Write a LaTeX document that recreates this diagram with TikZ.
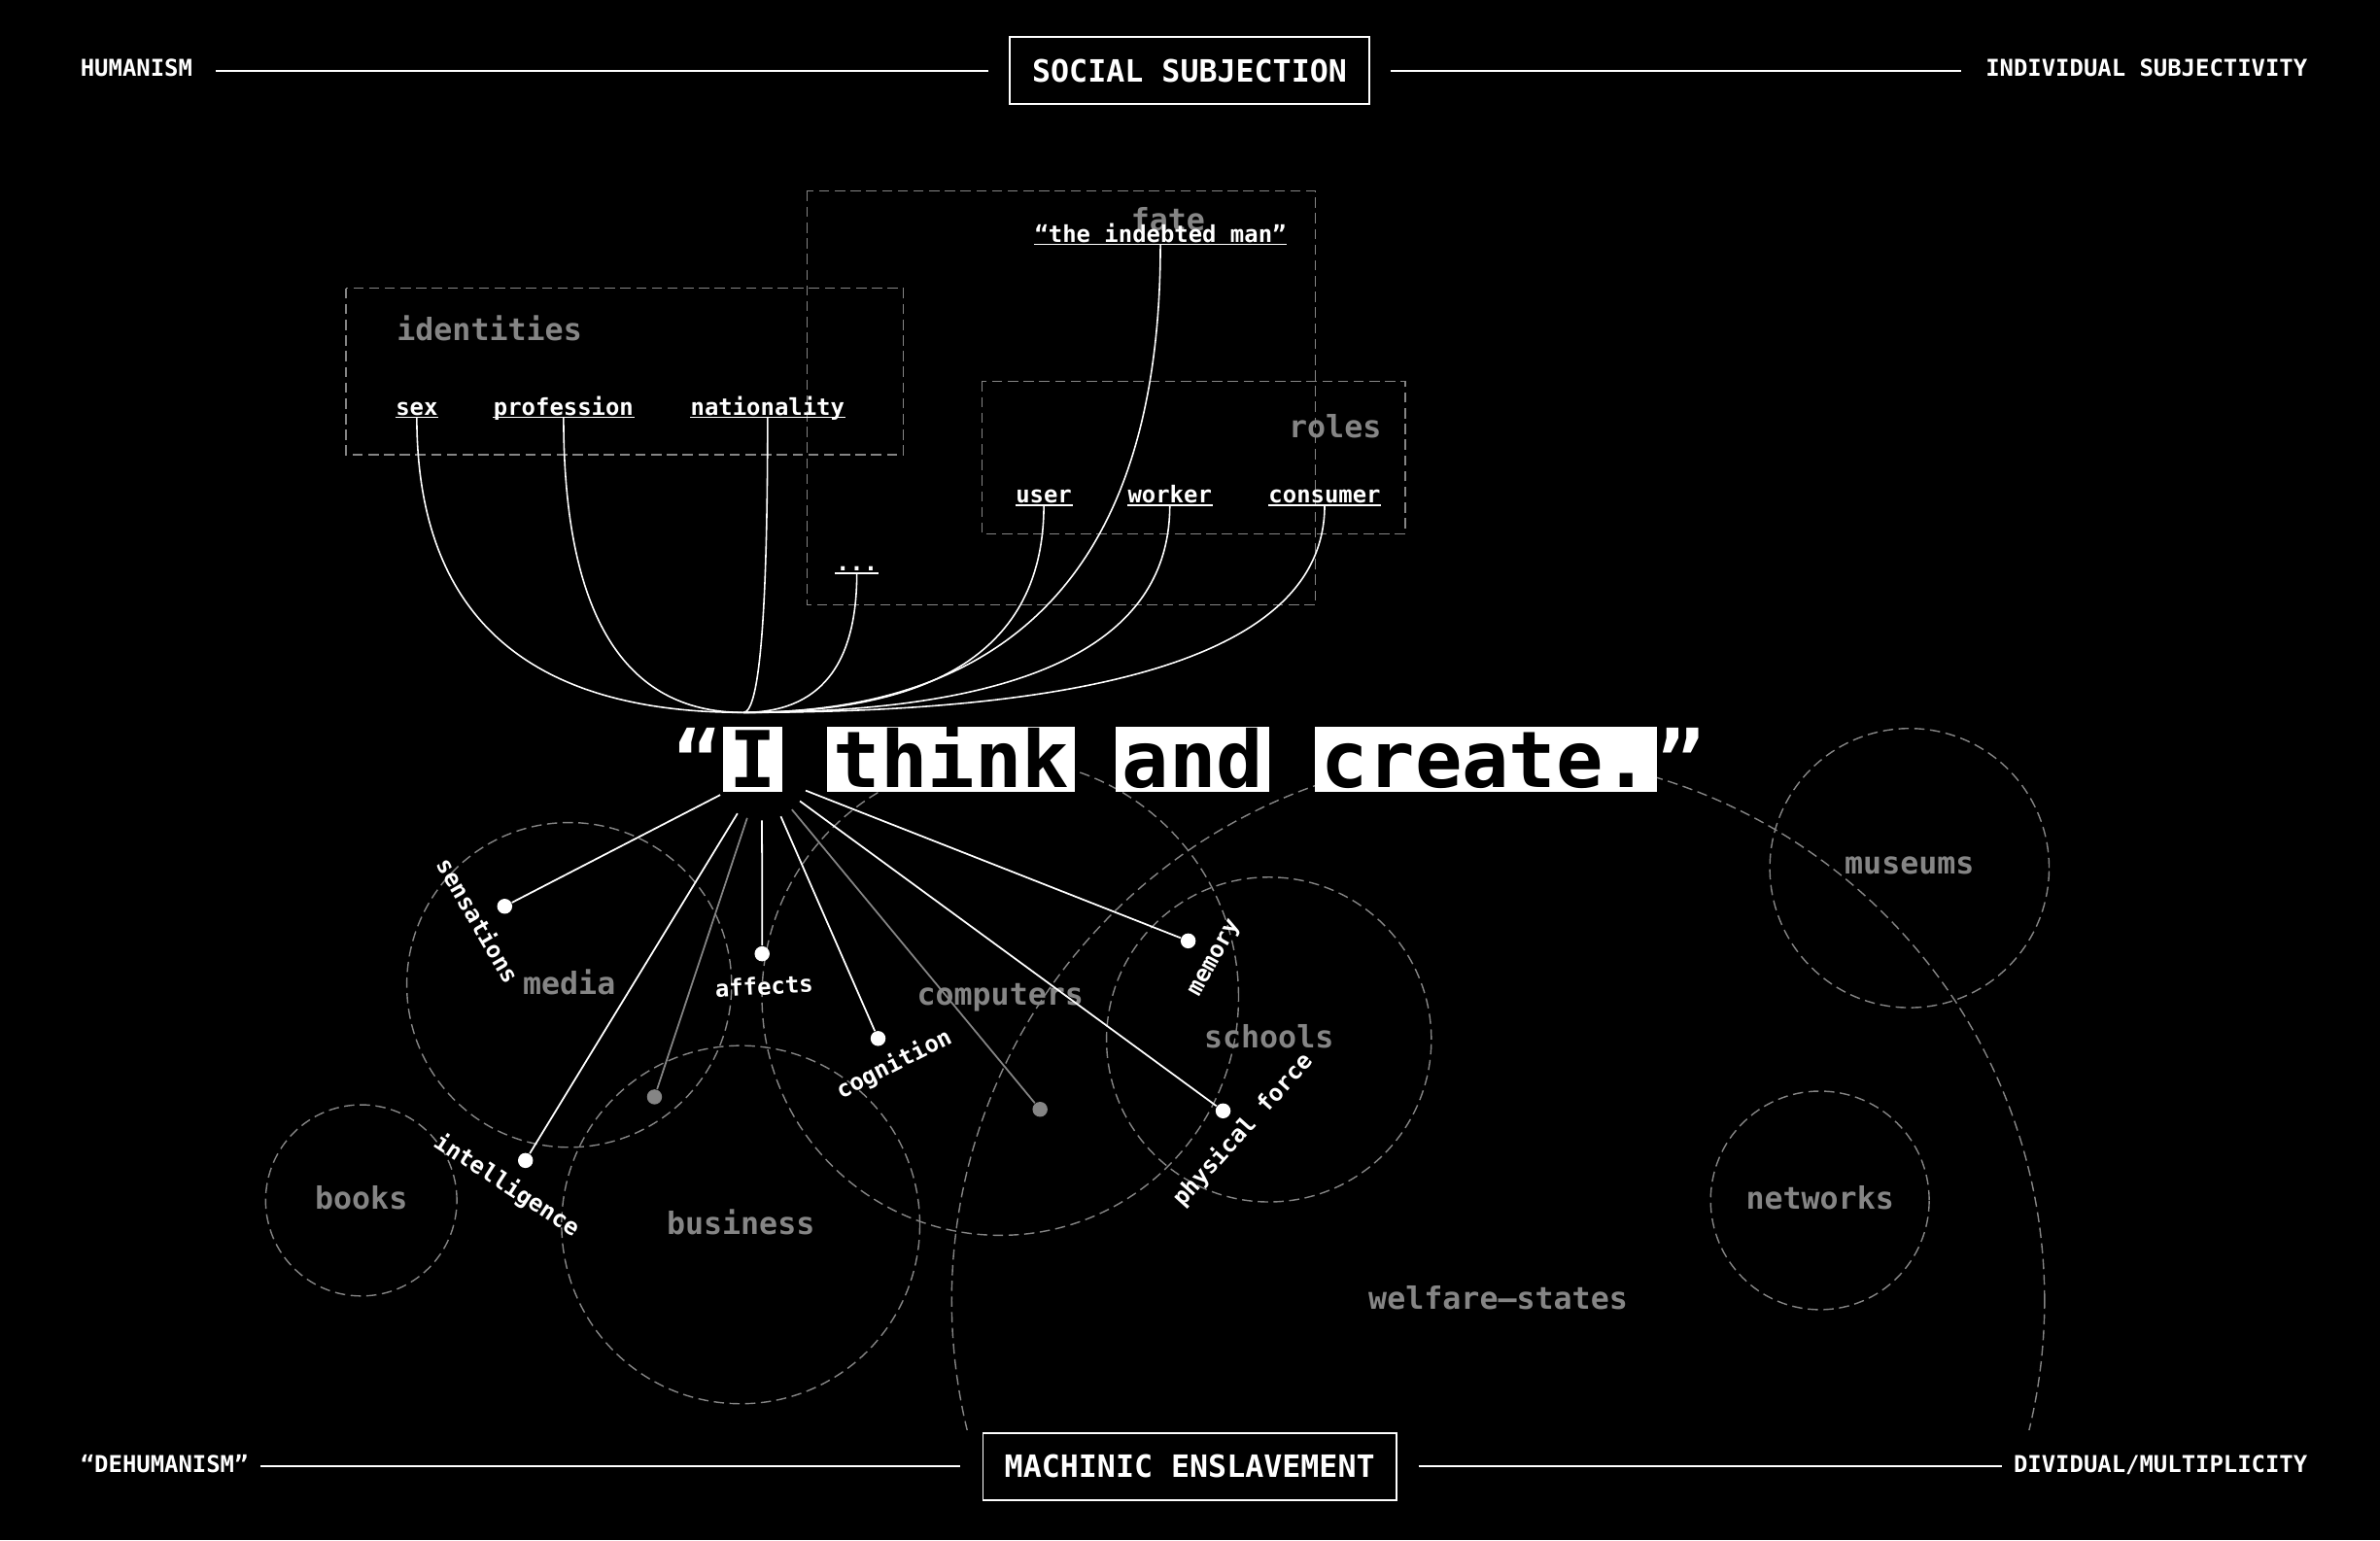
\documentclass[tikz,border=0pt]{standalone}
\usepackage{fontspec}
\setmainfont{DejaVu Sans Mono}
\usetikzlibrary{calc}
\definecolor{dimgrey}{HTML}{858585}

\begin{document}
\begin{tikzpicture}[x=0.44434pt,y=-0.44434pt,
  boxFrame/.style={draw=dimgrey,line width=0.4pt,dash pattern=on 3pt off 1.6pt},
  zone/.style={boxFrame,circle,inner sep=0pt,text=dimgrey,text depth=1.8pt,
    font=\bfseries\fontsize{9pt}{9pt}\selectfont},
  heading/.style={text=dimgrey,inner sep=0pt,font=\bfseries\fontsize{9pt}{9pt}\selectfont},
  tag/.style={text=white,inner sep=0pt,text depth=0.5pt,anchor=south,
    font=\bfseries\fontsize{6.8pt}{6.8pt}\selectfont,
    append after command={(\tikzlastnode.south west) edge[draw=white,line width=0.4pt] (\tikzlastnode.south east)}},
  pole/.style={text=white,inner sep=0pt,font=\bfseries\fontsize{6.8pt}{6.8pt}\selectfont},
  poleBox/.style={draw=white,line width=0.5pt,fill=black,text=white,inner sep=0pt,outer sep=0pt,
    text height=6.56pt,text depth=0pt,minimum height=19.6pt,font=\bfseries\fontsize{9pt}{9pt}\selectfont},
  barLine/.style={draw=white,line width=0.5pt},
  tagCurve/.style={draw=white,line width=0.45pt},
  ray/.style={draw=white,line width=0.5pt},
  facDot/.style={circle,fill=white,inner sep=0pt,minimum size=4.4pt},
  facText/.style={text=white,inner sep=0pt,font=\bfseries\fontsize{6.8pt}{6.8pt}\selectfont},
  word/.style={fill=white,text=black,anchor=base,inner xsep=1.8pt,inner ysep=0pt,
    text height=17.7pt,text depth=1.4pt,font=\bfseries\fontsize{22.9pt}{22.9pt}\selectfont},
  quoteSign/.style={text=white,anchor=base,inner sep=0pt,font=\bfseries\fontsize{22.9pt}{22.9pt}\selectfont}]%
  \def\zoneCircle(#1,#2,#3,#4,#5){\node[zone,minimum size={2*#3*0.44434pt}] (#4) at (#1,#2) {#5};}
  \def\tagLink(#1){\draw[tagCurve] (#1.south) .. controls ($(#1.south)!2/3!(#1.south|-hub)$) and ($(hub)!2/3!(#1.south|-hub)$) .. (hub);}

% define faculty (#name, #dot x, #dot y, #label x, #label y, #angle, #text)
  \def\faculty(#1,#2,#3,#4,#5,#6,#7){
    \node[facDot] (#1) at (#2,#3) {};
    \draw[ray] (core) -- (#1);
    \node[facText,rotate=#6] (#1Text) at (#4,#5) {#7};}

  \useasboundingbox (0,0) rectangle (1568,1015);
  \fill[black] (0,0) rectangle (1568,1015);

  % top and bottom axes
  \node[pole,anchor=base west] (humanism) at (52.6,50.5) {HUMANISM};
  \node[poleBox,minimum width=105.2pt] (subjection) at (783.7,46.6) {SOCIAL SUBJECTION};
  \node[pole,anchor=base east] (subjectivity) at (1520.6,50.5) {INDIVIDUAL SUBJECTIVITY};
  \draw[barLine,shorten <=6.6pt,shorten >=6.2pt] (subjection.west -| humanism.east) -- (subjection.west);
  \draw[barLine,shorten <=6.2pt,shorten >=7.1pt] (subjection.east) -- (subjection.east -| subjectivity.west);

  \node[pole,anchor=base west] (dehumanism) at (52.6,970.2) {“DEHUMANISM”};
  \node[poleBox,minimum width=121pt] (enslavement) at (783.8,966.3) {MACHINIC ENSLAVEMENT};
  \node[pole,anchor=base east] (dividual) at (1520.6,970.2) {DIVIDUAL/MULTIPLICITY};
  \draw[barLine,shorten <=3.4pt,shorten >=6.6pt] (enslavement.west -| dehumanism.east) -- (enslavement.west);
  \draw[barLine,shorten <=6.5pt,shorten >=3.1pt] (enslavement.east) -- (enslavement.east -| dividual.west);

  % subjection frames
  \draw[boxFrame] (228,190) rectangle (595.2,299.6);
  \draw[boxFrame] (531.7,125.9) rectangle (866.7,398.7);
  \draw[boxFrame] (646.8,251.2) rectangle (925.8,351.7);
  \node[heading,anchor=base west] (identities) at (261,224.4) {identities};
  \node[heading,anchor=base] (fate) at (769.5,152) {fate};
  \node[heading,anchor=base east] (roles) at (910.5,288.2) {roles};

  % enslavement zones
  \zoneCircle(375,649,107,media,media)
  \zoneCircle(238,791,63,books,books)
  \zoneCircle(488,807,118,business,business)
  \zoneCircle(659,657,157,computers,computers)
  \zoneCircle(836,685,107,schools,schools)
  \zoneCircle(1258,572,92,museums,museums)
  \zoneCircle(1199,791,72,networks,networks)
  \begin{scope}
    \clip (0,0) rectangle (1568,942);
    \zoneCircle(987,857,360,welfare,welfare–states)
  \end{scope}

  % tags above
  \coordinate (hub) at (489.8,469.5);
  \node[tag] (sex) at (274.6,275) {sex};
  \node[tag] (prof) at (371.3,275) {profession};
  \node[tag] (nat) at (505.7,275) {nationality};
  \node[tag] (user) at (687.7,333) {user};
  \node[tag] (worker) at (770.7,333) {worker};
  \node[tag] (cons) at (872.7,333) {consumer};
  \node[tag] (etc) at (564.5,377.8) {...};
  \node[tag] (debt) at (764.5,161.1) {“the indebted man”};
  \foreach \tg in {sex,prof,nat,etc,user,worker,cons,debt}{\tagLink(\tg)}

  % faculties below
  \node[circle,inner sep=0pt,minimum size=27.1pt] (core) at (502,509.6) {};
  \faculty(sens,332.5,597.2,315.2,606.5,-60,sensations)
  \faculty(intel,346.2,764.7,333.8,781.2,-33,intelligence)
  \faculty(aff,502.1,628.5,503.4,649.8,3,affects)
  \faculty(cogn,578.5,684.3,589,701.5,27,cognition)
  \faculty(mem,782.8,620,800.9,631.7,61,memory)
  \faculty(phys,805.8,732,818.8,744.8,48,physical force)
  \node[facDot,fill=dimgrey] (greyL) at (431.2,722.8) {};
  \node[facDot,fill=dimgrey] (greyR) at (685.2,731) {};
  \draw[ray,draw=dimgrey] (core) -- (greyL);
  \draw[ray,draw=dimgrey] (core) -- (greyR);

  % the phrase
  \node[quoteSign] (open) at (459.5,518.6) {“};
  \node[word] (wI) at (496,518.6) {I};
  \node[word] (wThink) at (626.7,518.6) {think};
  \node[word] (wAnd) at (785.8,518.6) {and};
  \node[word] (wCreate) at (978.8,518.6) {create.};
  \node[quoteSign] (close) at (1107.4,518.6) {”};
\end{tikzpicture}
\end{document}
